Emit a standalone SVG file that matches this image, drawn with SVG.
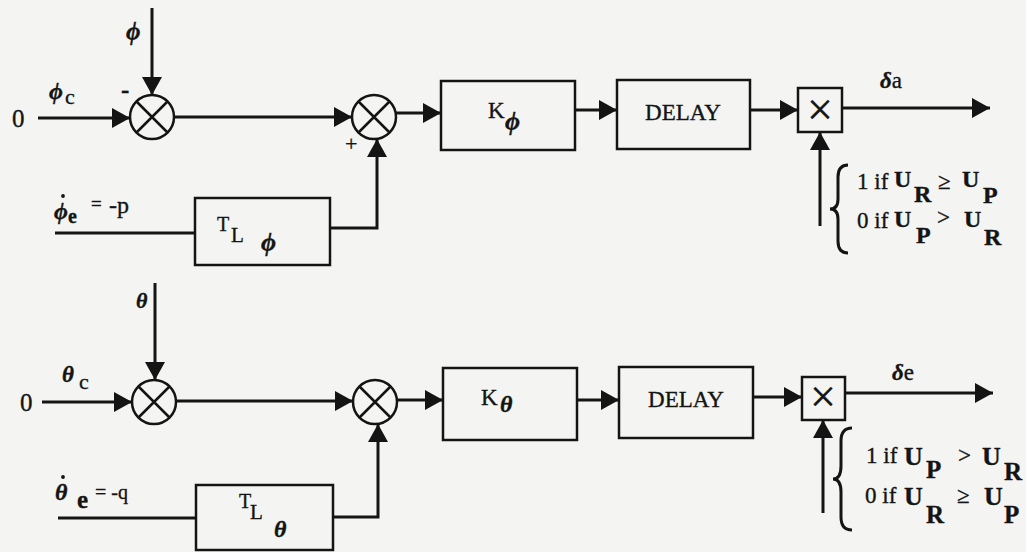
<svg xmlns="http://www.w3.org/2000/svg" width="1026" height="552" viewBox="0 0 1026 552">
<defs>
<marker id="arr" viewBox="0 0 18 20" refX="18" refY="10" markerWidth="18" markerHeight="20" markerUnits="userSpaceOnUse" orient="auto">
<path d="M0,0 L18,10 L0,20 z" fill="#141414"/>
</marker>
<style>
.ln{stroke:#141414;stroke-width:3;fill:none}
.bx{stroke:#141414;stroke-width:2.5;fill:none}
.ar{stroke:#141414;stroke-width:3;fill:none;marker-end:url(#arr)}
.br{stroke:#141414;stroke-width:3;fill:none}
.dot{fill:#141414}
text{font-family:"Liberation Serif","Times New Roman",serif;fill:#141414;stroke:#141414;stroke-width:0.35}
.g{font-style:italic;font-weight:bold}
.b{font-weight:bold}
</style>
</defs>
<rect x="0" y="0" width="1026" height="552" fill="#f4f4f2"/>

<g id="connectors">
<path class="ar" d="M38,118 L130,118"/>
<path class="ar" d="M152,8 L152,95"/>
<path class="ar" d="M175,117 L352,117"/>
<path class="ar" d="M396,113 L441,113"/>
<path class="ar" d="M575,110 L617,110"/>
<path class="ar" d="M750,110 L798,110"/>
<path class="ar" d="M842,108 L990,108"/>
<path class="ar" d="M820,226 L820,132"/>
<path class="ln" d="M55,233 L195,233"/>
<path class="ar" d="M330,228 L377,228 L377,139"/>
<path class="ar" d="M42,402 L132,402"/>
<path class="ar" d="M155,283 L155,380"/>
<path class="ar" d="M176,401 L353,401"/>
<path class="ar" d="M397,400 L443,400"/>
<path class="ar" d="M577,400 L619,400"/>
<path class="ar" d="M753,397 L802,397"/>
<path class="ar" d="M845,393 L993,393"/>
<path class="ar" d="M823,513 L823,420"/>
<path class="ln" d="M58,518 L196,518"/>
<path class="ar" d="M333,517 L378,517 L378,424"/>
</g>

<g id="labels-top">
<text x="12" y="127" font-size="25">0</text>
<text x="126" y="40" font-size="25" class="g">ϕ</text>
<text x="49" y="99" font-size="24" class="g">ϕ</text>
<text x="65" y="104" font-size="22">c</text>
<text x="121" y="98" font-size="25" class="b">-</text>
<text x="345" y="151" font-size="22">+</text>
<text x="880" y="88" font-size="23"><tspan class="g">δ</tspan>a</text>
<text x="54" y="219" font-size="24" class="g">ϕ</text>
<circle class="dot" cx="63" cy="196" r="1.9"/>
<text x="68" y="223" font-size="20" class="b">e</text>
<text x="91" y="210" font-size="19">=</text>
<text x="109" y="213" font-size="24">-p</text>
</g>

<g id="labels-bottom">
<text x="20" y="411" font-size="25">0</text>
<text x="136" y="308" font-size="22" class="g">θ</text>
<text x="62" y="382" font-size="23" class="g">θ</text>
<text x="79" y="389" font-size="22">c</text>
<text x="892" y="380" font-size="23"><tspan class="g">δ</tspan>e</text>
<text x="55" y="500" font-size="24" class="g">θ</text>
<circle class="dot" cx="63" cy="477" r="1.9"/>
<text x="77" y="508" font-size="25" class="b">e</text>
<text x="95" y="499" font-size="20">= -q</text>
</g>

<g id="sum1-top">
<circle cx="152" cy="117" r="22" class="bx"/>
<path class="bx" d="M136.5,101.5 L167.5,132.5 M167.5,101.5 L136.5,132.5"/>
</g>
<g id="sum2-top">
<circle cx="374" cy="117" r="22" class="bx"/>
<path class="bx" d="M358.5,101.5 L389.5,132.5 M389.5,101.5 L358.5,132.5"/>
</g>
<g id="k-phi">
<rect x="441" y="81" width="134" height="69" class="bx"/>
<text x="488" y="118" font-size="23">K</text>
<text x="505" y="130" font-size="26" class="g">ϕ</text>
</g>
<g id="delay-top">
<rect x="617" y="80" width="133" height="69" class="bx"/>
<text x="683" y="120" font-size="23" text-anchor="middle">DELAY</text>
</g>
<g id="mult-top">
<rect x="798" y="88" width="44" height="44" class="bx"/>
<text x="820" y="125" font-size="46" text-anchor="middle">×</text>
</g>
<g id="t-phi">
<rect x="195" y="198" width="135" height="67" class="bx"/>
<text x="217" y="231" font-size="20">T</text>
<text x="231" y="242" font-size="21">L</text>
<text x="261" y="251" font-size="26" class="g">ϕ</text>
</g>
<g id="cond-top">
<path class="br" d="M848,165 Q838,165 838,177 L838,199 Q838,209 830,209 Q838,209 838,219 L838,241 Q838,253 848,253"/>
<text x="857" y="189" font-size="23">1 if</text>
<text x="894" y="187" font-size="24" class="b">U</text>
<text x="914" y="202" font-size="24" class="b">R</text>
<text x="938" y="189" font-size="23">≥</text>
<text x="962" y="187" font-size="24" class="b">U</text>
<text x="983" y="203" font-size="24" class="b">P</text>
<text x="857" y="228" font-size="23">0 if</text>
<text x="894" y="227" font-size="24" class="b">U</text>
<text x="916" y="243" font-size="24" class="b">P</text>
<text x="937" y="225" font-size="23">&gt;</text>
<text x="964" y="227" font-size="24" class="b">U</text>
<text x="984" y="245" font-size="24" class="b">R</text>
</g>

<g id="sum1-bottom">
<circle cx="154" cy="402" r="22" class="bx"/>
<path class="bx" d="M138.5,386.5 L169.5,417.5 M169.5,386.5 L138.5,417.5"/>
</g>
<g id="sum2-bottom">
<circle cx="375" cy="402" r="22" class="bx"/>
<path class="bx" d="M359.5,386.5 L390.5,417.5 M390.5,386.5 L359.5,417.5"/>
</g>
<g id="k-theta">
<rect x="443" y="368" width="134" height="72" class="bx"/>
<text x="481" y="405" font-size="23">K</text>
<text x="500" y="412" font-size="24" class="g">θ</text>
</g>
<g id="delay-bottom">
<rect x="619" y="367" width="134" height="71" class="bx"/>
<text x="686" y="407" font-size="23" text-anchor="middle">DELAY</text>
</g>
<g id="mult-bottom">
<rect x="802" y="377" width="43" height="43" class="bx"/>
<text x="823" y="412" font-size="46" text-anchor="middle">×</text>
</g>
<g id="t-theta">
<rect x="196" y="485" width="137" height="65" class="bx"/>
<text x="239" y="508" font-size="20">T</text>
<text x="250" y="519" font-size="21">L</text>
<text x="274" y="537" font-size="24" class="g">θ</text>
</g>
<g id="cond-bottom">
<path class="br" d="M852,428 Q841,428 841,441 L841,466 Q841,479 833,479 Q841,479 841,492 L841,517 Q841,530 852,530"/>
<text x="866" y="463" font-size="23">1 if</text>
<text x="904" y="465" font-size="26" class="b">U</text>
<text x="926" y="478" font-size="25" class="b">P</text>
<text x="958" y="463" font-size="23">&gt;</text>
<text x="982" y="465" font-size="26" class="b">U</text>
<text x="1004" y="480" font-size="25" class="b">R</text>
<text x="865" y="503" font-size="23">0 if</text>
<text x="904" y="505" font-size="26" class="b">U</text>
<text x="926" y="523" font-size="25" class="b">R</text>
<text x="957" y="503" font-size="23">≥</text>
<text x="984" y="505" font-size="26" class="b">U</text>
<text x="1004" y="523" font-size="25" class="b">P</text>
</g>
</svg>
